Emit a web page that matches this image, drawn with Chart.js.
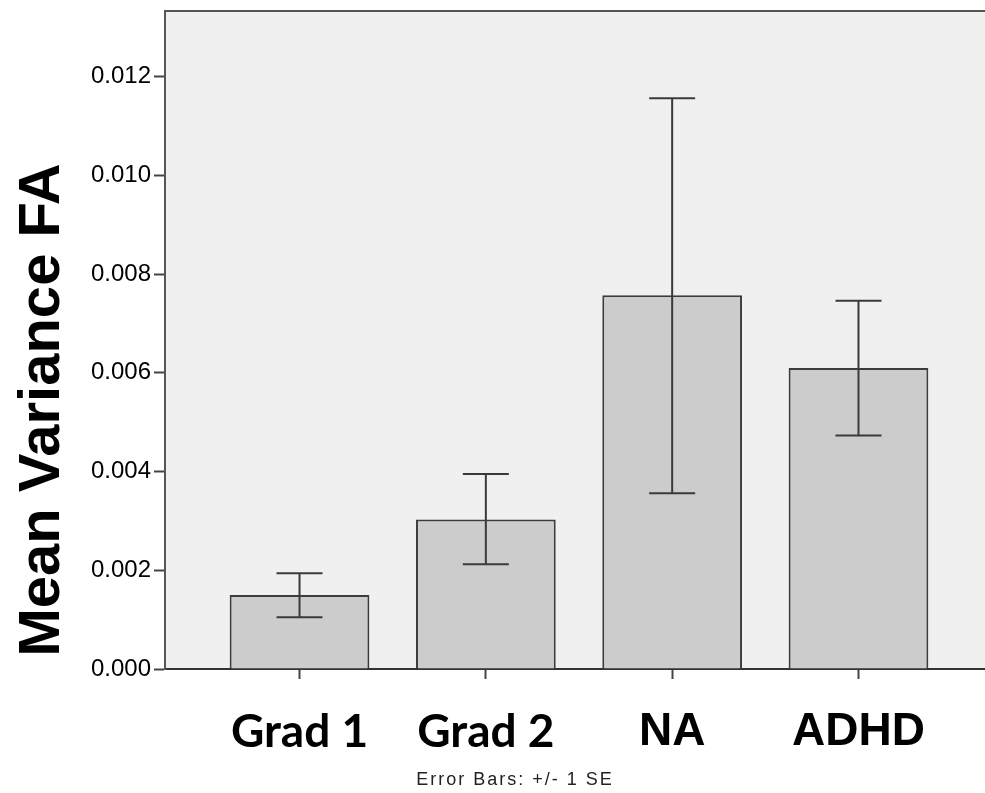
<!DOCTYPE html>
<html>
<head>
<meta charset="utf-8">
<script src="https://cdn.jsdelivr.net/npm/chart.js@4.4.1/dist/chart.umd.min.js"></script>
<style>
	body { margin: 0; background: #fff; }
	#wrap { width: 985px; height: 793px; }
</style>
</head>
<body>
<div id="wrap"><canvas id="BarChart" width="985" height="793"></canvas></div>
<script>
// group names under the bars
var groups = ['Grad 1', 'Grad 2', 'NA', 'ADHD'];
// mean variance FA per group
var means = [0.0015, 0.00303, 0.00757, 0.0061];
// error bar ends (+/- 1 SE)
var seUpper = [0.00194, 0.00395, 0.01156, 0.00746];
var seLower = [0.00105, 0.00212, 0.00356, 0.00473];
// y tick values
var yTicks = [0, 0.002, 0.004, 0.006, 0.008, 0.010, 0.012];

var axisTitle = 'Mean Variance FA';
var footNote = 'Error Bars: +/- 1 SE';

// grey plot background + top frame line
var plotFrame = {
	id: 'plotFrame',
	beforeDraw: function(chart) {
		var a = chart.chartArea, ctx = chart.ctx;
		ctx.save();
		ctx.fillStyle = '#f0f0f0';
		ctx.fillRect(a.left, a.top, a.right - a.left, a.bottom - a.top);
		ctx.restore();
	},
	afterDraw: function(chart) {
		var a = chart.chartArea, ctx = chart.ctx;
		ctx.save();
		ctx.strokeStyle = '#555';
		ctx.lineWidth = 2;
		ctx.beginPath();
		ctx.moveTo(a.left, a.top);
		ctx.lineTo(a.right, a.top);
		ctx.stroke();

		// y axis title, sits lower than the axis middle in the original
		ctx.fillStyle = '#000';
		ctx.font = 'bold 58px "Liberation Sans", Arial, sans-serif';
		ctx.textAlign = 'center';
		ctx.textBaseline = 'alphabetic';
		ctx.translate(59, 410);
		ctx.rotate(-Math.PI / 2);
		ctx.fillText(axisTitle, 0, 0);
		ctx.restore();

		ctx.save();
		ctx.fillStyle = '#222';
		ctx.font = '18px "Liberation Sans Narrow", "Liberation Sans", Arial, sans-serif';
		ctx.letterSpacing = '2px';
		ctx.textAlign = 'center';
		ctx.textBaseline = 'alphabetic';
		ctx.fillText(footNote, 515, 785);
		ctx.restore();
	}
};

// whiskers for the SE bars
var errorBars = {
	id: 'errorBars',
	afterDatasetsDraw: function(chart) {
		var ctx = chart.ctx, xs = chart.scales.x, ys = chart.scales.y;
		ctx.save();
		ctx.strokeStyle = '#3a3a3a';
		ctx.lineWidth = 2;
		groups.forEach(function(g, i) {
			var px = xs.getPixelForValue(i + 1);
			var top = ys.getPixelForValue(seUpper[i]);
			var bot = ys.getPixelForValue(seLower[i]);
			ctx.beginPath();
			ctx.moveTo(px, top); ctx.lineTo(px, bot);
			ctx.moveTo(px - 23, top); ctx.lineTo(px + 23, top);
			ctx.moveTo(px - 23, bot); ctx.lineTo(px + 23, bot);
			ctx.stroke();
		});
		ctx.restore();
	}
};

var barData = means.map(function(v, i) {
	return { x: i + 1, y: v };
});

new Chart(document.getElementById('BarChart'), {
	type: 'bar',
	data: {
		datasets: [
			{
				data: barData,
				backgroundColor: '#cccccc',
				borderColor: '#3c3c3c',
				borderWidth: 2,
				barPercentage: 0.75,
				categoryPercentage: 1
			}
		]
	},
	options: {
		responsive: false,
		animation: false,
		layout: { padding: { top: 11, right: 0, left: 0, bottom: 0 } },
		plugins: {
			legend: { display: false },
			tooltip: { enabled: false }
		},
		scales: {
			x: {
				type: 'linear',
				offset: false,
				min: 0.278,
				max: 4.679,
				afterBuildTicks: function(scale) {
					scale.ticks = groups.map(function(g, i) { return { value: i + 1 }; });
				},
				afterFit: function(scale) {
					scale.height = 124;
					scale.paddingLeft = 0;
					scale.paddingRight = 0;
				},
				grid: { offset: false, drawOnChartArea: false, drawTicks: true, tickLength: 10, tickColor: '#444', tickWidth: 2 },
				border: { display: true, color: '#333', width: 2 },
				ticks: {
					padding: 26,
					maxRotation: 0,
					autoSkip: false,
					color: '#000',
					font: function(c) {
						return c.index < 2
							? { family: 'Lato', weight: 'bold', size: 46 }
							: { family: '"Liberation Sans", Arial', weight: 'bold', size: 46 };
					},
					callback: function(v) { return groups[Math.round(v) - 1]; }
				}
			},
			y: {
				min: 0,
				max: 0.01333,
				afterBuildTicks: function(scale) {
					scale.ticks = yTicks.map(function(v) { return { value: v }; });
				},
				afterFit: function(scale) {
					scale.width = 165;
					scale.paddingTop = 0;
					scale.paddingBottom = 0;
				},
				grid: { drawOnChartArea: false, drawTicks: true, tickLength: 11, tickColor: '#444', tickWidth: 2 },
				border: { display: true, color: '#555', width: 2 },
				ticks: {
					padding: 3,
					color: '#000',
					font: { family: '"Liberation Sans", Arial', size: 24 },
					callback: function(v) { return v.toFixed(3); }
				}
			}
		}
	},
	plugins: [plotFrame, errorBars]
});
</script>
</body>
</html>
